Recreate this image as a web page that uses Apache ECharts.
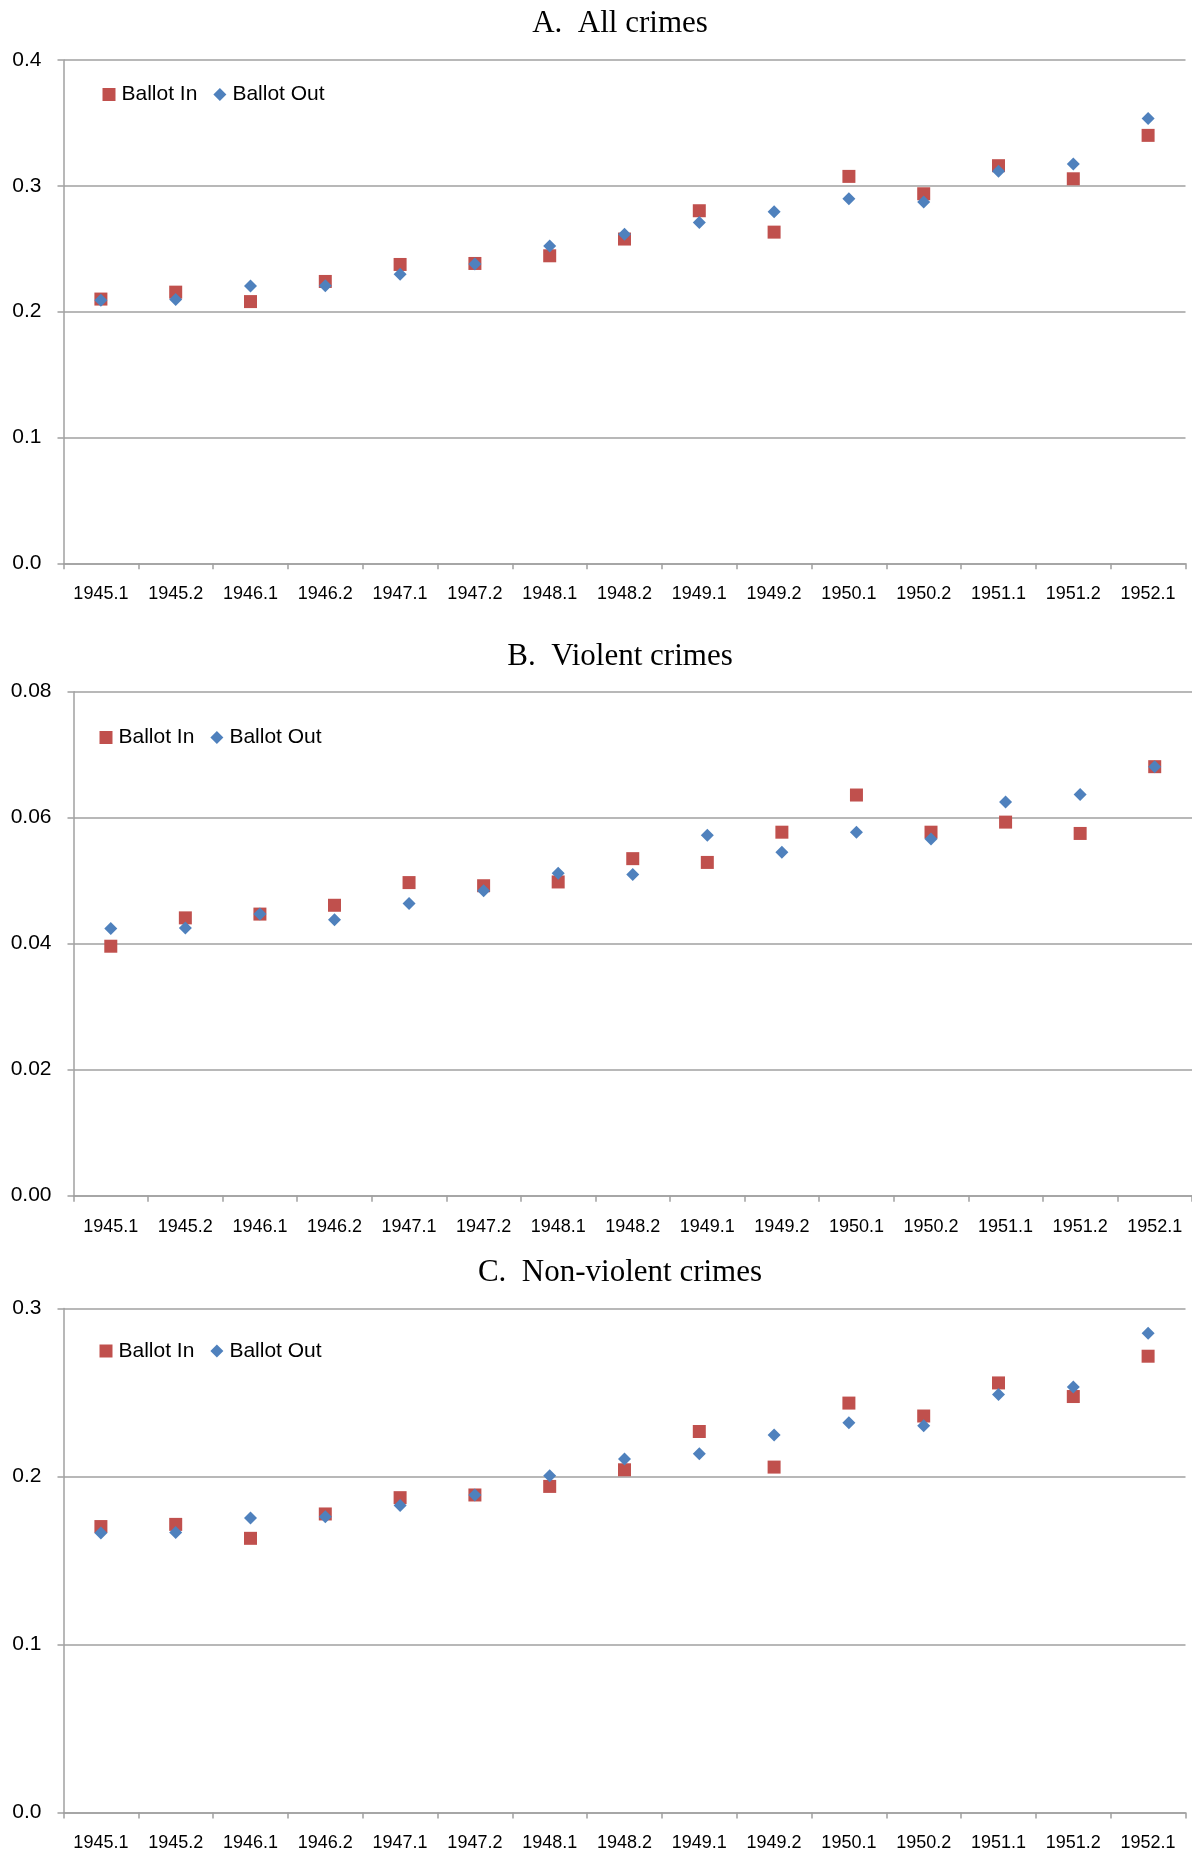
<!DOCTYPE html>
<html>
<head>
<meta charset="utf-8">
<script src="https://cdn.jsdelivr.net/npm/echarts@6/dist/echarts.min.js"></script>
<style>
html,body{margin:0;padding:0;background:#fff;}
#chart{width:1192px;height:1857px;}
</style>
</head>
<body>
<div id="chart"></div>
<script>
// ---- Data ----
const periods = ['1945.1','1945.2','1946.1','1946.2','1947.1','1947.2','1948.1','1948.2','1949.1','1949.2','1950.1','1950.2','1951.1','1951.2','1952.1'];

const allCrimesIn  = [0.210, 0.2155, 0.208, 0.224, 0.2375, 0.2383, 0.2444, 0.2577, 0.2802, 0.2632, 0.3075, 0.2937, 0.316, 0.3056, 0.3401];
const allCrimesOut = [0.209, 0.2097, 0.2203, 0.2205, 0.2298, 0.2378, 0.2521, 0.2616, 0.2709, 0.2794, 0.2897, 0.2871, 0.3115, 0.3173, 0.3536];

const violentIn  = [0.0396, 0.0441, 0.0447, 0.0461, 0.0497, 0.0492, 0.0498, 0.0535, 0.0529, 0.0577, 0.0636, 0.0577, 0.0593, 0.0575, 0.0681];
const violentOut = [0.0424, 0.0425, 0.0447, 0.0438, 0.0464, 0.0484, 0.0512, 0.0510, 0.0572, 0.0545, 0.0577, 0.0566, 0.0625, 0.0637, 0.0681];

const nonViolentIn  = [0.1702, 0.1715, 0.1632, 0.1777, 0.1874, 0.1890, 0.1941, 0.2040, 0.2268, 0.2056, 0.2437, 0.2360, 0.2557, 0.2476, 0.2716];
const nonViolentOut = [0.1664, 0.1666, 0.1753, 0.1761, 0.1827, 0.1890, 0.2005, 0.2104, 0.2135, 0.2247, 0.2320, 0.2302, 0.2488, 0.2532, 0.2853];

const panelTitles = ['A.  All crimes', 'B.  Violent crimes', 'C.  Non-violent crimes'];
const seriesNames = ['Ballot In', 'Ballot Out'];
const yMax = [0.4, 0.08, 0.3];
const yInterval = [0.1, 0.02, 0.1];
const yDecimals = [1, 2, 1];

// ---- Layout / style ----
const grids = [
  {left: 63.5, top: 60,    width: 1122, height: 503.3},
  {left: 73.5, top: 691.7, width: 1124, height: 504},
  {left: 63.5, top: 1308.5, width: 1122, height: 504}
];
const titleTops = [8.5, 641, 1257];
const legendPos = [{left: 102.5, top: 84}, {left: 99.5, top: 727}, {left: 99.5, top: 1340.5}];

const RED = '#C0504D';
const BLUE = '#4F81BD';
const GRIDC = '#a0a0a0';
const SANS = '"Liberation Sans", Arial, sans-serif';
const SERIF = '"Liberation Serif", "Times New Roman", serif';

const inData = [allCrimesIn, violentIn, nonViolentIn];
const outData = [allCrimesOut, violentOut, nonViolentOut];

const option = {
  animation: false,
  backgroundColor: '#ffffff',
  title: panelTitles.map((t, i) => ({
    text: t,
    left: 620,
    top: titleTops[i],
    textAlign: 'center',
    padding: 0,
    textStyle: {fontFamily: SERIF, fontSize: 31, fontWeight: 'normal', color: '#000', lineHeight: 31}
  })),
  legend: legendPos.map((p, i) => ({
    left: p.left,
    top: p.top,
    padding: 0,
    itemWidth: 13,
    itemHeight: 13,
    itemGap: 16,
    selectedMode: false,
    data: [
      {name: seriesNames[0], icon: 'rect', itemStyle: {color: RED}},
      {name: seriesNames[1], icon: 'diamond', itemStyle: {color: BLUE}}
    ],
    textStyle: {fontFamily: SANS, fontSize: 21, color: '#000', lineHeight: 21, padding: [0, 0, 0, 1]}
  })),
  grid: grids.map(g => Object.assign({containLabel: false}, g)),
  xAxis: grids.map((g, i) => ({
    type: 'category',
    gridIndex: i,
    data: periods,
    boundaryGap: true,
    axisLine: {show: true, lineStyle: {color: GRIDC, width: 1.5}},
    axisTick: {show: true, length: 6, lineStyle: {color: GRIDC, width: 1.5}},
    axisLabel: {fontFamily: SANS, fontSize: 18, color: '#000', margin: 22, interval: 0},
    splitLine: {show: false}
  })),
  yAxis: grids.map((g, i) => ({
    type: 'value',
    gridIndex: i,
    min: 0,
    max: yMax[i],
    interval: yInterval[i],
    axisLine: {show: true, lineStyle: {color: GRIDC, width: 1.5}},
    axisTick: {show: true, length: 6, lineStyle: {color: GRIDC, width: 1.5}},
    axisLabel: {fontFamily: SANS, fontSize: 21, color: '#000', margin: 22,
      formatter: v => v.toFixed(yDecimals[i])},
    splitLine: {show: true, lineStyle: {color: GRIDC, width: 1.5}}
  })),
  series: []
};

for (let i = 0; i < 3; i++) {
  option.series.push({
    name: seriesNames[0], type: 'scatter', xAxisIndex: i, yAxisIndex: i,
    symbol: 'rect', symbolSize: 13,
    itemStyle: {color: RED, opacity: 1},
    data: inData[i], z: 2
  });
  option.series.push({
    name: seriesNames[1], type: 'scatter', xAxisIndex: i, yAxisIndex: i,
    symbol: 'diamond', symbolSize: 13,
    itemStyle: {color: BLUE, opacity: 1},
    data: outData[i], z: 3
  });
}

const chart = echarts.init(document.getElementById('chart'), null, {renderer: 'canvas'});
chart.setOption(option);
</script>
</body>
</html>
